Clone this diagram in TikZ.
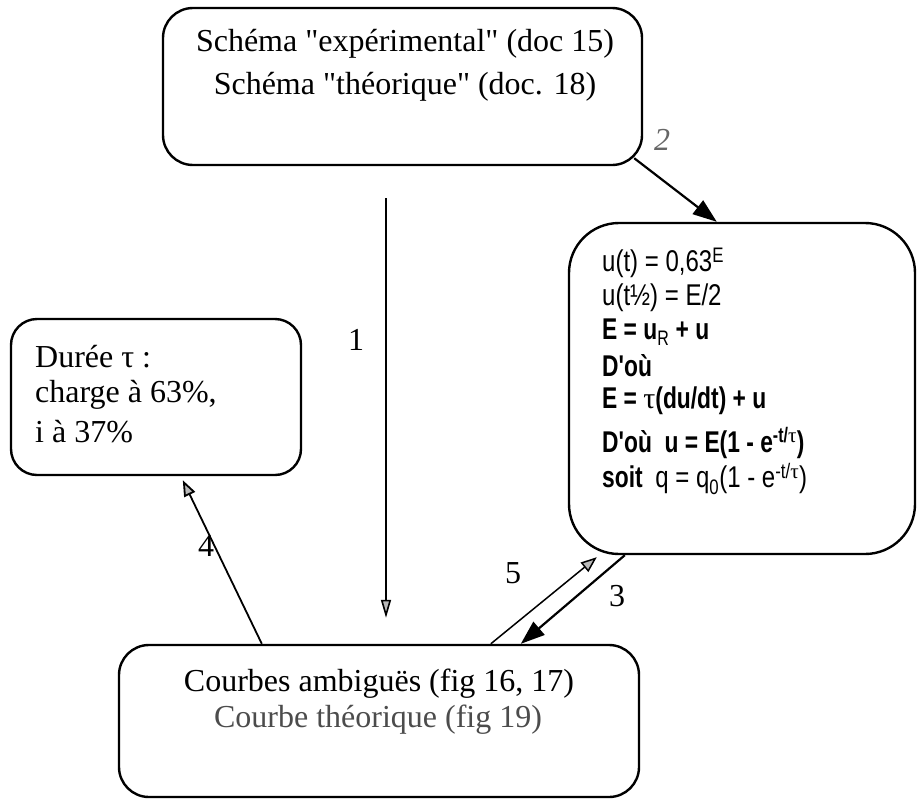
\documentclass[tikz,border=0pt]{standalone}
\usepackage{fontspec}
\setmainfont{Liberation Serif}[Ligatures=TeXOff]
\newfontfamily\nsans[FakeStretch=0.8,Ligatures=TeXOff]{Liberation Sans}
\newfontfamily\nsansb[FakeStretch=0.76,Ligatures=TeXOff]{Liberation Sans}
\usetikzlibrary{arrows.meta,calc}
\begin{document}
\begin{tikzpicture}[x=1pt,y=-1pt,
  box/.style={draw, line width=2.4pt, rounded corners=#1, inner sep=0pt},
  stxt/.style={font=\fontsize{32}{36}\selectfont, inner sep=0pt},
  rtxt/.style={font=\fontsize{30}{34}\nsans, anchor=west, inner sep=0pt},
  rbtxt/.style={font=\fontsize{30}{34}\nsansb\bfseries, anchor=west, inner sep=0pt},
  lbl/.style={font=\fontsize{32}{36}\selectfont, inner sep=0pt},
  solidhead/.style={-{Triangle[length=24pt,width=17pt]}, line width=2.2pt},
  greyhead/.style={-{Triangle[length=16pt,width=12pt,fill=gray!55]}, line width=1.8pt},
  thinhead/.style={-{Triangle[length=18pt,width=10pt,fill=gray!55]}, line width=1.6pt}
]
\useasboundingbox (0,0) rectangle (917,800);

% boxes
\node[box=30pt, minimum width=479pt, minimum height=157pt] (top) at (402.5,86.5) {};
\node[box=50pt, minimum width=346pt, minimum height=331pt] (right) at (742,388.5) {};
\node[box=26pt, minimum width=290pt, minimum height=156pt] (left) at (156,397) {};
\node[box=30pt, minimum width=520pt, minimum height=152pt] (bot) at (379,721) {};

% top box text
\node[stxt] (t1) at (405,44) {Schéma "expérimental" (doc 15)};
\node[stxt] (t2) at (405,87) {Schéma "théorique" (doc. 18)};

% left box text
\node[stxt, anchor=west] (l1) at (35,357) {Durée τ :};
\node[stxt, anchor=west] (l2) at (35,395) {charge à 63\%,};
\node[stxt, anchor=west] (l3) at (35,432) {i à 37\%};

% bottom box text
\node[stxt] (b1) at (379,684) {Courbes ambiguës (fig 16, 17)};
\node[stxt, text=black!70] (b2) at (378,720) {Courbe théorique (fig 19)};

% right box text
\node[rtxt] (r1) at (602,263) {u(t) = 0,63\textsuperscript{E}};
\node[rtxt] (r2) at (602,298) {u(t½) = E/2};
\node[rbtxt] (r3) at (602,332) {E = u\textsubscript{\mdseries R} + u};
\node[rbtxt] (r4) at (602,366) {D'où};
\node[rbtxt] (r5) at (602,401) {E = {\rmfamily\mdseries τ}(du/dt) + u};
\node[rbtxt] (r6) at (602,443) {D'où~ u = E(1 - e\textsuperscript{-t/{\rmfamily\mdseries τ}})};
\node[rbtxt] (r7) at (602,479) {soit~ {\nsans\mdseries q = q\textsubscript{0}(1 - e\textsuperscript{-t/{\rmfamily τ}})}};

% connector end points
\coordinate (a1s) at ($(top.south)+(-16.5,32)$);
\coordinate (a1e) at ($(bot.north)+(7,-26)$);
\coordinate (a2s) at ($(top.south east)+(-9,-8)$);
\coordinate (a2e) at ($(right.north west)+(149,0)$);
\coordinate (a3s) at ($(right.south west)+(57,0)$);
\coordinate (a3e) at ($(bot.north west)+(403,0)$);
\coordinate (a5s) at ($(bot.north west)+(373,0)$);
\coordinate (a5e) at ($(right.south west)+(29,2)$);
\coordinate (a4s) at ($(bot.north west)+(144,0)$);
\coordinate (a4e) at ($(left.south west)+(173,4)$);

% connectors
\draw[thinhead] (a1s) -- (a1e);
\draw[solidhead] (a2s) -- (a2e);
\draw[solidhead] (a3s) -- (a3e);
\draw[greyhead, line width=1.5pt] (a5s) -- (a5e);
\draw[greyhead] (a4s) -- (a4e);

% labels
\node[lbl] (n1) at (356,340) {1};
\node[lbl, text=black!60] (n2) at (662,140) {\itshape 2};
\node[lbl] (n5) at (513,573) {5};
\node[lbl] (n3) at (617,596) {3};
\node[lbl] (n4) at (206,546) {4};
\end{tikzpicture}
\end{document}
